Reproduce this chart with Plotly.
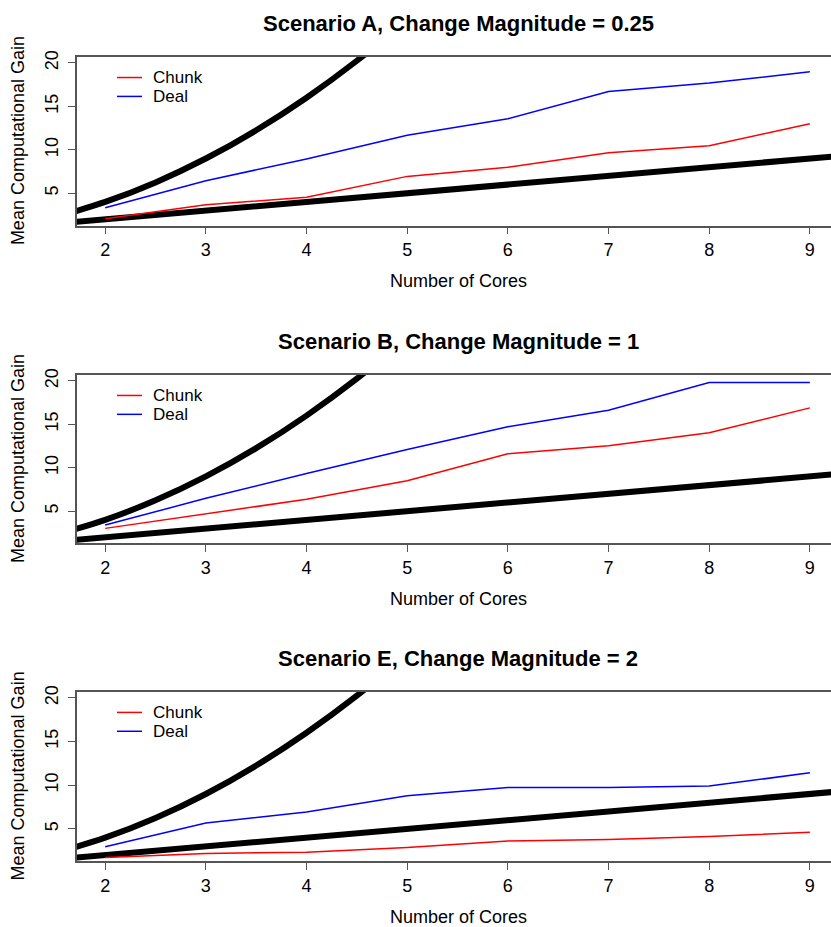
import plotly.graph_objects as go

W, H = 831, 927

# ---- data ----
cores = [2, 3, 4, 5, 6, 7, 8, 9]
chunk_A = [2.07, 3.67, 4.54, 6.94, 8.0, 9.67, 10.47, 13.01]
deal_A = [3.33, 6.44, 8.95, 11.68, 13.58, 16.70, 17.68, 18.97]
chunk_B = [3.02, 4.73, 6.37, 8.5, 11.61, 12.52, 14.04, 16.89]
deal_B = [3.40, 6.48, 9.33, 12.1, 14.72, 16.62, 19.81, 19.81]
chunk_E = [1.73, 2.19, 2.34, 2.87, 3.63, 3.78, 4.12, 4.62]
deal_E = [2.95, 5.68, 6.94, 8.8, 9.75, 9.75, 9.90, 11.42]
# reference (ideal) lines: linear and quadratic gain
linear_x = [1.5, 10]
linear_y = [1.5, 10]
quad_x = [1.5, 2, 2.5, 3, 3.5, 4, 4.5, 5]
quad_y = [2.25, 4, 6.25, 9, 12.25, 16, 20.25, 25]
titles = ["Scenario A, Change Magnitude = 0.25",
          "Scenario B, Change Magnitude = 1",
          "Scenario E, Change Magnitude = 2"]
x_ticks = [2, 3, 4, 5, 6, 7, 8, 9]
y_ticks = [5, 10, 15, 20]

FONT = "Liberation Sans, Arial, Helvetica, sans-serif"
AXCOL = "#555555"

# panel pixel geometry (top, bottom)
panels = [(titles[0], chunk_A, deal_A, 51, 221),
          (titles[1], chunk_B, deal_B, 371, 541),
          (titles[2], chunk_E, deal_E, 690, 861)]
left_px = 77


def py(p):
    return 1 - p / H


def px(p):
    return p / W


fig = go.Figure()
annotations = []
shapes = []
for i, (title, chunk, deal, top, bot) in enumerate(panels):
    k = "" if i == 0 else str(i + 1)
    xa, ya = "x" + k, "y" + k
    fig.add_trace(go.Scatter(x=linear_x, y=linear_y, mode="lines",
                             line=dict(color="black", width=6),
                             xaxis=xa, yaxis=ya, showlegend=False, hoverinfo="skip"))
    fig.add_trace(go.Scatter(x=quad_x, y=quad_y, mode="lines",
                             line=dict(color="black", width=6, shape="spline"),
                             xaxis=xa, yaxis=ya, showlegend=False, hoverinfo="skip"))
    fig.add_trace(go.Scatter(x=cores, y=chunk, mode="lines", name="Chunk",
                             line=dict(color="red", width=1.5),
                             xaxis=xa, yaxis=ya, showlegend=False))
    fig.add_trace(go.Scatter(x=cores, y=deal, mode="lines", name="Deal",
                             line=dict(color="blue", width=1.5),
                             xaxis=xa, yaxis=ya, showlegend=False))
    axx = dict(domain=[px(left_px), 1.0], range=[1.72, 9.21],
               tickvals=x_ticks, ticks="outside", ticklen=7, tickcolor=AXCOL,
               showline=True, linecolor=AXCOL, linewidth=1.5, mirror=True,
               showgrid=False, zeroline=False,
               tickfont=dict(family=FONT, size=18, color="black"),
               anchor=ya)
    axy = dict(domain=[py(bot), py(top)], range=[1.28, 20.72],
               tickvals=y_ticks, ticks="outside", ticklen=7, tickcolor=AXCOL,
               showline=True, linecolor=AXCOL, linewidth=1.5, mirror=False,
               showgrid=False, zeroline=False, tickangle=-90, ticklabelstandoff=3,
               tickfont=dict(family=FONT, size=18, color="black"),
               anchor=xa)
    fig.layout["xaxis" + k] = axx
    fig.layout["yaxis" + k] = axy
    # title
    annotations.append(dict(text="<b>" + title + "</b>", x=px(458), y=py(top - 33),
                            xref="paper", yref="paper", showarrow=False,
                            xanchor="center", yanchor="middle",
                            font=dict(family=FONT, size=22, color="black")))
    # axis titles
    annotations.append(dict(text="Number of Cores", x=px(458), y=py(bot + 56),
                            xref="paper", yref="paper", showarrow=False,
                            xanchor="center", yanchor="middle",
                            font=dict(family=FONT, size=18, color="black")))
    annotations.append(dict(text="Mean Computational Gain", x=px(18), y=py((top + bot) / 2),
                            xref="paper", yref="paper", showarrow=False, textangle=-90,
                            xanchor="center", yanchor="middle",
                            font=dict(family=FONT, size=18, color="black")))
    # legend (top-left inside plot)
    for name, col, dy in (("Chunk", "red", 21), ("Deal", "blue", 40)):
        shapes.append(dict(type="line", xref="paper", yref="paper",
                           x0=px(117), x1=px(142), y0=py(top + dy), y1=py(top + dy),
                           line=dict(color=col, width=1.5)))
        annotations.append(dict(text=name, x=px(152), y=py(top + dy),
                                xref="paper", yref="paper", showarrow=False,
                                xanchor="left", yanchor="middle", borderpad=0,
                                font=dict(family=FONT, size=17, color="black")))

fig.update_layout(width=W, height=H, margin=dict(l=0, r=0, t=0, b=0),
                  paper_bgcolor="white", plot_bgcolor="white",
                  annotations=annotations, shapes=shapes, showlegend=False)
fig.write_html("out.html", config={"displayModeBar": False},
               post_script="document.body.style.margin='0px';document.body.style.padding='0px';document.body.style.overflow='hidden';")
